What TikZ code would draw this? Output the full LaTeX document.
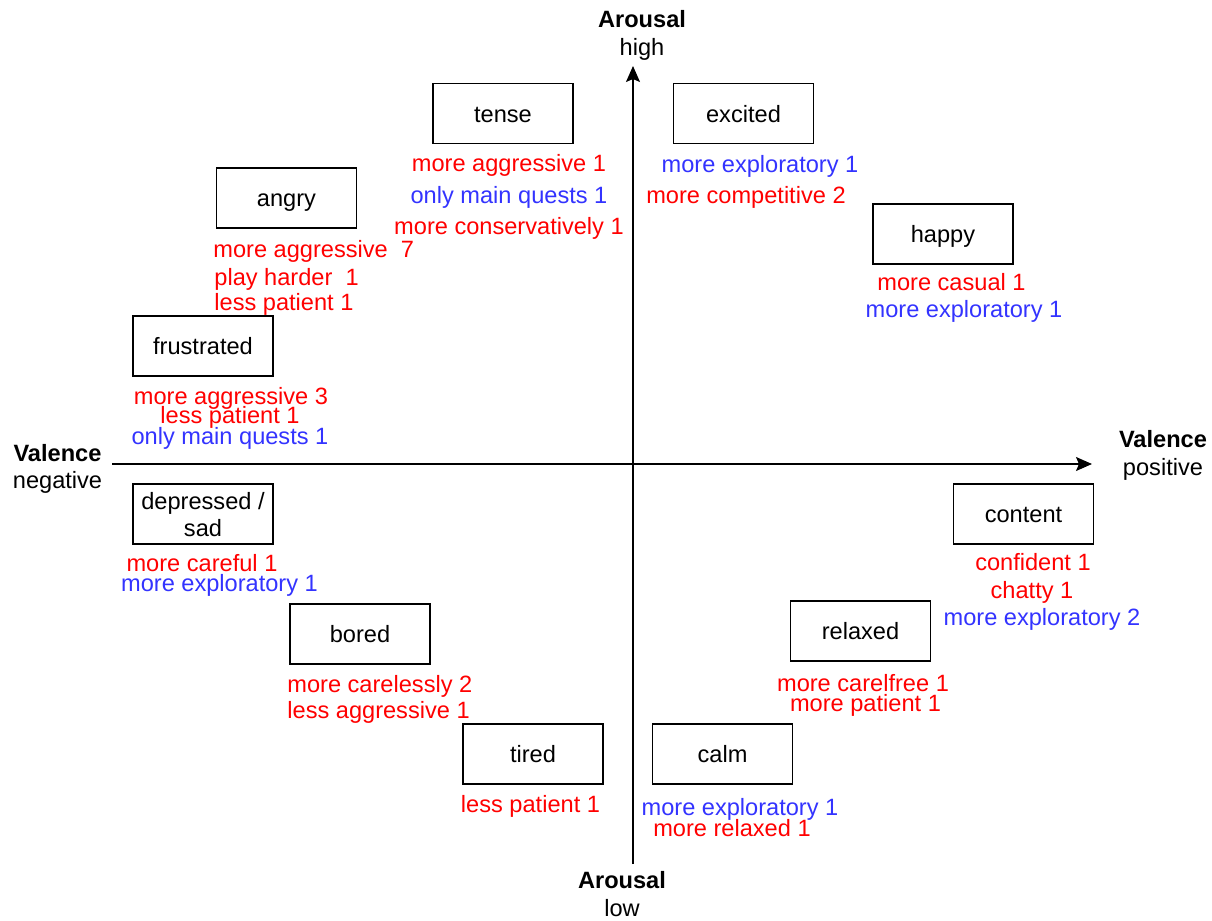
\documentclass[tikz,border=0pt]{standalone}
\usepackage{fontspec}
\setmainfont{Liberation Sans}
\usetikzlibrary{arrows.meta}

\begin{document}
\begin{tikzpicture}[x=0.5pt,y=-0.5pt,
  every node/.style={font=\fontsize{11.8}{13.5}\selectfont,inner sep=0pt},
  emotion/.style={draw,line width=0.65pt,minimum width=70pt,minimum height=30pt,text height=8.5pt,text depth=0pt},
  effect/.style={anchor=base},
  axis/.style={line width=0.75pt,-{Stealth[length=8pt,width=7pt,inset=1.5pt]}},
  axislabel/.style={anchor=base,font=\fontsize{11.8}{13.5}\selectfont\bfseries}]
% Define behaviour colours
\definecolor{playred}{RGB}{255,0,0}
\definecolor{playblue}{RGB}{51,51,255}

\useasboundingbox (0,0) rectangle (1212,921);

% Draw axes
\coordinate (vneg) at (112,464);
\coordinate (vpos) at (1092,464);
\coordinate (alow) at (633,864);
\coordinate (ahigh) at (633,66);
\draw[axis] (vneg) -- (vpos);
\draw[axis] (alow) -- (ahigh);

% Axis labels
\node[axislabel] (aHighT) at (642,27) {Arousal};
\node[effect] (aHighB) at (642,55) {high};
\node[axislabel] (aLowT) at (622,888) {Arousal};
\node[effect] (aLowB) at (622,916) {low};
\node[axislabel] (vNegT) at (57.5,461) {Valence};
\node[effect] (vNegB) at (57.5,488) {negative};
\node[axislabel] (vPosT) at (1163,447) {Valence};
\node[effect] (vPosB) at (1163,475) {positive};

% Draw emotion boxes
\node[emotion] (tense) at (503,113.5) {tense};
\node[emotion] (excited) at (743.5,113.5) {excited};
\node[emotion] (angry) at (286.5,198) {angry};
\node[emotion] (happy) at (943,234) {happy};
\node[emotion] (frustrated) at (203,346) {frustrated};
\node[emotion,align=center,text height=22pt] (sad) at (203,514) {depressed /\\sad};
\node[emotion] (content) at (1023.5,514) {content};
\node[emotion] (bored) at (360,634) {bored};
\node[emotion] (relaxed) at (860.5,631) {relaxed};
\node[emotion] (tired) at (533,754) {tired};
\node[emotion] (calm) at (722.5,754) {calm};

% Add behaviour changes
\node[effect,playred] (tenseA) at (509,171) {more aggressive 1};
\node[effect,playblue] (tenseB) at (509,203) {only main quests 1};
\node[effect,playred] (tenseC) at (509,234) {more conservatively 1};

\node[effect,playblue] (excitedA) at (760,172) {more exploratory 1};
\node[effect,playred] (excitedB) at (746,203) {more competitive 2};

\node[effect,playred,anchor=base west] (angryA) at (213,257) {more aggressive\ \ 7};
\node[effect,playred,anchor=base west] (angryB) at (214,285) {play harder\ \ 1};
\node[effect,playred,anchor=base west] (angryC) at (214,310) {less patient 1};

\node[effect,playred] (happyA) at (951.5,290) {more casual 1};
\node[effect,playblue] (happyB) at (964,317) {more exploratory 1};

\node[effect,playred] (frustratedA) at (231,404) {more aggressive 3};
\node[effect,playred] (frustratedB) at (230,423) {less patient 1};
\node[effect,playblue] (frustratedC) at (230,444) {only main quests 1};

\node[effect,playred] (sadA) at (202,571) {more careful 1};
\node[effect,playblue] (sadB) at (219.5,591) {more exploratory 1};

\node[effect,playred] (contentA) at (1033,570) {confident 1};
\node[effect,playred] (contentB) at (1032,598) {chatty 1};
\node[effect,playblue] (contentC) at (1042,625) {more exploratory 2};

\node[effect,playred,anchor=base west] (boredA) at (287,692) {more carelessly 2};
\node[effect,playred,anchor=base west] (boredB) at (287,718) {less aggressive 1};

\node[effect,playred] (relaxedA) at (863,691) {more carelfree 1};
\node[effect,playred] (relaxedB) at (865.5,711) {more patient 1};

\node[effect,playred] (tiredA) at (530.5,812) {less patient 1};

\node[effect,playblue] (calmA) at (740,815) {more exploratory 1};
\node[effect,playred] (calmB) at (732,836) {more relaxed 1};
\end{tikzpicture}
\end{document}
